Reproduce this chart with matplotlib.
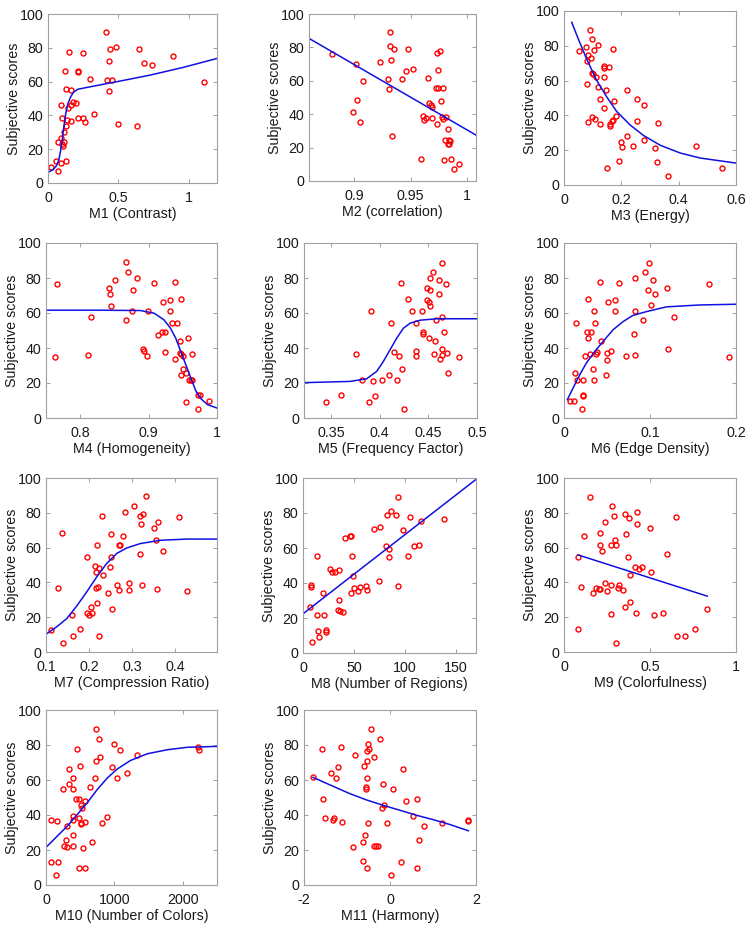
import matplotlib
matplotlib.use("Agg")
import matplotlib.pyplot as plt
from matplotlib.ticker import FuncFormatter

# (feature value, subjective score) pairs
m1_pts = [(0.415, 89.1), (0.481, 80.6), (0.441, 79.1), (0.645, 79.1), (0.149, 77.7), (0.251, 76.7),
          (0.891, 75.3), (0.434, 72.1), (0.685, 70.9), (0.735, 70.0), (0.123, 66.2), (0.211, 66.4),
          (0.216, 65.6), (0.296, 61.7), (0.422, 60.9), (0.453, 60.9), (1.109, 59.5), (0.128, 55.5),
          (0.166, 55.3), (0.431, 54.5), (0.175, 48.0), (0.199, 47.6), (0.095, 46.4), (0.161, 46.0),
          (0.140, 44.1), (0.329, 40.9), (0.102, 38.7), (0.133, 37.5), (0.213, 38.3), (0.246, 38.3),
          (0.166, 36.8), (0.265, 35.8), (0.498, 35.2), (0.633, 34.0), (0.130, 34.0), (0.114, 30.2),
          (0.090, 26.7), (0.073, 24.3), (0.111, 24.3), (0.100, 22.9), (0.107, 21.7), (0.055, 12.8),
          (0.090, 11.9), (0.128, 12.8), (0.019, 9.5), (0.069, 6.9)]
m1_fit = [(0.005, 6.5), (0.036, 7.9), (0.059, 10.1), (0.076, 13.4), (0.088, 18.4), (0.102, 26.3),
          (0.114, 34.2), (0.126, 41.1), (0.142, 47.0), (0.161, 51.0), (0.182, 53.8), (0.213, 55.5),
          (0.273, 56.5), (0.486, 59.9), (0.723, 63.8), (0.960, 68.4), (1.2, 73.7)]

m2_pts = [(0.9314, 89.0), (0.9317, 80.8), (0.935, 79.0), (0.948, 79.2), (0.976, 77.8), (0.973, 76.6),
          (0.880, 75.8), (0.9325, 72.3), (0.9225, 71.1), (0.902, 70.3), (0.9746, 66.5), (0.9518, 66.9),
          (0.9459, 66.1), (0.9654, 61.9), (0.9296, 61.1), (0.9426, 61.1), (0.9077, 59.9), (0.9305, 55.1),
          (0.9728, 55.9), (0.9746, 55.9), (0.979, 55.9), (0.9024, 48.3), (0.9772, 48.1), (0.9666, 46.5),
          (0.9678, 45.7), (0.9692, 44.3), (0.8994, 41.3), (0.9607, 38.7), (0.9621, 36.3), (0.964, 37.9),
          (0.9686, 37.9), (0.978, 38.1), (0.979, 37.1), (0.981, 38.5), (0.9053, 35.5), (0.9734, 34.3),
          (0.9831, 30.9), (0.9337, 26.9), (0.9808, 24.8), (0.9843, 24.4), (0.985, 23.8), (0.983, 22.4),
          (0.984, 22.0), (0.9589, 13.4), (0.9861, 13.4), (0.98, 12.4), (0.9929, 10.0), (0.9885, 7.2)]
m2_fit = [(0.86, 85.4), (1.008, 27.5)]

m3_pts = [(0.091, 89.3), (0.096, 83.7), (0.118, 80.7), (0.077, 79.3), (0.172, 78.0), (0.054, 77.2),
          (0.103, 77.6), (0.084, 74.6), (0.095, 73.2), (0.079, 71.1), (0.138, 68.5), (0.138, 67.1),
          (0.158, 67.7), (0.096, 64.6), (0.102, 63.9), (0.110, 61.8), (0.141, 61.8), (0.079, 58.1),
          (0.119, 56.2), (0.147, 54.7), (0.219, 54.7), (0.124, 49.3), (0.253, 49.5), (0.174, 48.0),
          (0.279, 46.1), (0.141, 44.4), (0.098, 38.8), (0.107, 38.2), (0.180, 39.4), (0.172, 37.5),
          (0.168, 36.7), (0.085, 36.3), (0.253, 36.9), (0.162, 35.2), (0.125, 35.2), (0.328, 35.6),
          (0.162, 33.7), (0.221, 28.3), (0.280, 26.0), (0.198, 24.7), (0.201, 21.8), (0.460, 22.2),
          (0.240, 22.4), (0.316, 21.4), (0.193, 13.6), (0.323, 13.0), (0.151, 9.6), (0.551, 9.6),
          (0.363, 5.4)]
m3_fit = [(0.027, 93.5), (0.049, 84.3), (0.078, 72.8), (0.113, 60.4), (0.148, 50.9), (0.183, 42.4),
          (0.230, 34.6), (0.277, 28.5), (0.335, 22.9), (0.405, 18.4), (0.475, 15.5), (0.6, 12.6)]

m4_pts = [(0.8676, 89.0), (0.8706, 83.5), (0.8833, 80.2), (0.851, 78.9), (0.9078, 77.4), (0.9382, 77.6),
          (0.7662, 76.8), (0.8417, 74.1), (0.8779, 73.0), (0.8441, 70.9), (0.948, 68.1), (0.9309, 67.3),
          (0.9216, 66.3), (0.8451, 64.1), (0.8995, 61.4), (0.876, 61.0), (0.9309, 61.2), (0.8157, 57.8),
          (0.8667, 56.1), (0.9338, 54.2), (0.9412, 54.2), (0.9132, 47.7), (0.920, 48.9), (0.924, 49.0),
          (0.9569, 45.6), (0.9466, 44.1), (0.8922, 39.2), (0.893, 38.2), (0.9235, 38.0), (0.9466, 36.9),
          (0.948, 36.3), (0.963, 36.7), (0.950, 35.2), (0.898, 35.6), (0.8113, 35.9), (0.7632, 34.8),
          (0.9387, 33.5), (0.9505, 28.1), (0.9554, 25.7), (0.948, 24.5), (0.959, 21.7), (0.962, 21.7),
          (0.963, 21.7), (0.9716, 13.1), (0.975, 13.1), (0.9554, 9.3), (0.9887, 9.5), (0.9716, 5.1)]
m4_fit = [(0.75, 61.6), (0.829, 61.6), (0.888, 61.4), (0.908, 59.9), (0.9225, 56.1), (0.932, 51.3),
          (0.9397, 45.6), (0.947, 38.0), (0.9544, 30.4), (0.9618, 22.8), (0.969, 15.6), (0.9765, 11.0),
          (0.9863, 7.6), (1.0, 5.7)]

m5_pts = [(0.4639, 88.8), (0.4546, 83.5), (0.4522, 80.2), (0.4605, 78.9), (0.4220, 77.4), (0.4684, 76.6),
          (0.4488, 74.1), (0.4522, 73.0), (0.4605, 70.9), (0.4296, 67.9), (0.4488, 67.3), (0.4509, 66.3),
          (0.4522, 64.1), (0.3911, 61.4), (0.4337, 61.4), (0.4430, 61.0), (0.4643, 57.8), (0.4581, 56.1),
          (0.4120, 54.4), (0.4375, 54.4), (0.4450, 49.2), (0.4450, 48.1), (0.4663, 49.0), (0.4509, 45.6),
          (0.4567, 43.9), (0.3756, 36.7), (0.4151, 38.0), (0.4371, 38.2), (0.4371, 35.4), (0.4196, 35.6),
          (0.4560, 36.7), (0.4639, 36.1), (0.4636, 39.2), (0.4694, 36.9), (0.4811, 35.0), (0.4619, 33.5),
          (0.4234, 28.1), (0.4698, 25.7), (0.4100, 24.3), (0.3814, 21.7), (0.3928, 21.1), (0.4024, 21.9),
          (0.4175, 21.9), (0.3601, 13.3), (0.3948, 12.7), (0.3447, 9.3), (0.3890, 9.3), (0.4254, 5.1)]
m5_fit = [(0.3223, 20.2), (0.3694, 20.9), (0.3866, 22.4), (0.3969, 26.6), (0.4038, 32.3), (0.4107, 39.0),
          (0.4175, 45.6), (0.4244, 51.3), (0.4313, 54.2), (0.4416, 55.9), (0.4588, 56.7), (0.5, 56.7)]

m6_pts = [(0.099, 88.8), (0.0944, 83.5), (0.0827, 80.2), (0.104, 78.9), (0.042, 77.6), (0.0637, 77.4),
          (0.169, 76.8), (0.1196, 74.1), (0.0975, 73.0), (0.1056, 70.9), (0.0276, 68.1), (0.0513, 66.3),
          (0.059, 67.3), (0.1014, 64.3), (0.0353, 61.4), (0.059, 61.4), (0.0827, 61.2), (0.1278, 57.8),
          (0.0913, 56.1), (0.014, 54.4), (0.0361, 54.4), (0.0268, 49.0), (0.031, 48.9), (0.0812, 47.9),
          (0.028, 45.8), (0.0435, 44.1), (0.0548, 38.2), (0.0384, 38.0), (0.1204, 39.2), (0.050, 36.9),
          (0.0369, 36.5), (0.030, 36.5), (0.0726, 35.6), (0.0827, 35.9), (0.1915, 35.0), (0.0241, 35.4),
          (0.050, 33.3), (0.0342, 28.1), (0.0124, 25.7), (0.049, 24.5), (0.0155, 21.7), (0.0221, 21.9),
          (0.035, 21.7), (0.0217, 13.1), (0.0217, 12.7), (0.007, 9.5), (0.012, 9.5), (0.0214, 5.3)]
m6_fit = [(0.0039, 10.5), (0.0105, 17.1), (0.0183, 24.7), (0.026, 31.4), (0.0357, 38.0), (0.0454, 43.7),
          (0.057, 50.4), (0.0687, 55.1), (0.080, 58.6), (0.0959, 60.8), (0.119, 63.5), (0.158, 64.6),
          (0.2, 65.0)]

m7_pts = [(0.3328, 89.5), (0.3034, 84.1), (0.3266, 79.3), (0.2833, 80.7), (0.318, 78.0), (0.230, 78.2),
          (0.4094, 77.4), (0.3606, 74.7), (0.3204, 73.6), (0.3514, 71.5), (0.1379, 68.6), (0.250, 67.8),
          (0.2779, 66.9), (0.2176, 61.7), (0.270, 61.7), (0.2725, 61.7), (0.3568, 64.4), (0.3196, 56.5),
          (0.373, 58.2), (0.195, 54.8), (0.250, 54.8), (0.2145, 49.4), (0.2222, 48.1), (0.216, 46.2),
          (0.2477, 49.0), (0.233, 44.4), (0.2647, 38.5), (0.2918, 39.7), (0.3227, 38.7), (0.2152, 37.0),
          (0.2214, 37.4), (0.127, 37.0), (0.2701, 35.6), (0.2918, 35.6), (0.3575, 36.4), (0.428, 35.2),
          (0.2438, 33.9), (0.2191, 28.4), (0.205, 25.9), (0.2524, 24.7), (0.1959, 22.2), (0.2075, 22.2),
          (0.199, 21.3), (0.1603, 21.5), (0.1108, 12.8), (0.178, 13.4), (0.1619, 9.4), (0.2237, 9.2),
          (0.1394, 5.2)]
m7_fit = [(0.1, 10.2), (0.1255, 14.6), (0.1487, 19.3), (0.1719, 26.6), (0.1951, 34.7), (0.2183, 43.3),
          (0.2415, 51.0), (0.2647, 56.7), (0.2879, 59.8), (0.3189, 62.3), (0.3653, 64.2), (0.4271, 64.9),
          (0.4975, 64.9)]

m8_pts = [(92.9, 89.3), (86.7, 81.0), (82.1, 79.0), (90.9, 79.0), (105.2, 77.9), (139.0, 76.6),
          (115.6, 75.4), (75.3, 72.2), (70.1, 70.9), (98.7, 70.1), (46.8, 66.9), (46.1, 66.9),
          (41.2, 65.5), (114.3, 61.5), (108.8, 61.0), (81.2, 61.0), (84.7, 59.6), (84.7, 54.9),
          (103.2, 55.6), (47.7, 55.6), (14.0, 55.6), (35.7, 47.6), (26.3, 48.0), (28.2, 46.5),
          (31.5, 46.3), (48.7, 43.8), (74.4, 41.0), (93.2, 38.3), (7.5, 38.7), (7.5, 37.7),
          (62.0, 38.3), (56.5, 37.5), (54.2, 35.6), (63.3, 35.8), (50.0, 37.0), (46.8, 34.3),
          (20.1, 34.1), (35.1, 30.3), (7.1, 26.5), (34.1, 24.4), (36.7, 23.8), (39.6, 23.4),
          (13.3, 21.9), (20.8, 21.7), (14.3, 12.8), (22.7, 13.0), (22.4, 12.0), (16.2, 9.1), (9.1, 6.5)]
m8_fit = [(0, 22.4), (170, 99.2)]

m9_pts = [(0.1515, 89.3), (0.2796, 83.9), (0.4233, 80.5), (0.3553, 79.2), (0.2893, 78.0), (0.3806, 77.2),
          (0.6505, 77.8), (0.2369, 74.6), (0.4233, 73.4), (0.501, 71.3), (0.2117, 68.3), (0.1146, 66.7),
          (0.3612, 67.7), (0.299, 64.2), (0.2097, 61.6), (0.2718, 61.6), (0.3049, 61.6), (0.2214, 58.1),
          (0.5961, 56.2), (0.0835, 54.7), (0.3728, 54.7), (0.4117, 49.1), (0.4388, 47.8), (0.4563, 49.1),
          (0.503, 45.9), (0.3825, 44.4), (0.101, 37.3), (0.2369, 39.6), (0.2718, 38.4), (0.3223, 38.4),
          (0.1883, 36.7), (0.2019, 36.1), (0.2117, 36.1), (0.3165, 36.9), (0.2505, 35.2), (0.3437, 35.6),
          (0.1689, 33.7), (0.3825, 28.5), (0.3573, 26.0), (0.2738, 21.6), (0.4214, 22.2), (0.5223, 21.2),
          (0.5728, 22.2), (0.833, 24.7), (0.0835, 13.0), (0.7592, 13.4), (0.6583, 9.4), (0.7049, 9.4),
          (0.3029, 5.2)]
m9_fit = [(0.0816, 55.8), (0.833, 32.1)]

m10_pts = [(738, 89.0), (773, 83.4), (993, 80.4), (2215, 79.0), (460, 77.7), (1086, 77.0), (2235, 77.3),
           (1325, 74.3), (792, 73.0), (733, 71.0), (504, 68.0), (958, 67.2), (337, 66.5), (401, 61.3),
           (714, 61.3), (1042, 61.3), (1183, 64.2), (337, 57.9), (244, 54.7), (396, 54.7), (636, 56.2),
           (435, 49.3), (484, 49.1), (513, 45.9), (533, 44.0), (572, 47.8), (78, 37.1), (166, 36.8),
           (396, 39.6), (391, 37.0), (484, 38.3), (509, 35.2), (518, 34.9), (577, 36.2), (826, 35.6),
           (895, 38.7), (313, 33.5), (391, 28.4), (293, 25.7), (675, 24.8), (259, 22.1), (313, 21.7),
           (396, 22.3), (548, 21.3), (78, 13.3), (181, 13.1), (484, 9.5), (577, 9.7), (142, 5.5)]
m10_fit = [(0, 21.5), (161, 27.8), (308, 33.5), (455, 40.2), (601, 46.9), (748, 54.5), (895, 61.1),
           (1042, 66.3), (1237, 71.2), (1482, 75.0), (1775, 77.3), (2068, 78.7), (2500, 79.2)]

m11_pts = [(-0.451, 89.1), (-0.241, 83.6), (-0.521, 80.4), (-1.144, 79.0), (-0.490, 77.7), (-1.580, 77.5),
           (-0.537, 76.8), (-0.809, 74.5), (-0.381, 73.1), (-0.529, 71.0), (-0.615, 68.0), (0.303, 66.5),
           (-1.198, 67.4), (-1.370, 64.2), (-1.253, 61.3), (-0.529, 61.3), (-1.790, 61.5), (-0.163, 57.9),
           (-0.568, 56.2), (-0.560, 54.7), (0.070, 54.7), (-1.556, 49.1), (0.630, 49.3), (0.381, 47.8),
           (-0.140, 45.9), (-0.187, 44.0), (0.545, 39.6), (-1.517, 38.5), (-1.300, 38.5), (-1.323, 37.0),
           (-1.105, 36.2), (1.821, 37.3), (1.821, 36.8), (-0.521, 35.4), (-0.062, 35.6), (1.206, 35.2),
           (0.786, 33.5), (-0.584, 28.4), (0.685, 25.7), (-0.623, 24.8), (-0.856, 21.5), (-0.381, 22.1),
           (-0.327, 22.3), (-0.288, 22.3), (-0.630, 13.5), (0.257, 13.1), (-0.529, 9.7), (0.638, 9.5),
           (0.016, 5.5)]
m11_fit = [(-1.79, 61.5), (-1.323, 56.4), (-0.934, 52.2), (-0.545, 48.6), (-0.156, 45.5), (0.233, 42.7),
           (0.623, 39.8), (1.012, 37.3), (1.401, 34.5), (1.821, 31.0)]

xlabels = ["M1 (Contrast)", "M2 (correlation)", "M3 (Energy)", "M4 (Homogeneity)",
           "M5 (Frequency Factor)", "M6 (Edge Density)", "M7 (Compression Ratio)",
           "M8 (Number of Regions)", "M9 (Colorfulness)", "M10 (Number of Colors)", "M11 (Harmony)"]
xlims = [(0, 1.2), (0.86, 1.008), (0, 0.6), (0.75, 1.0), (0.3223, 0.5), (0, 0.2),
         (0.1, 0.4975), (0, 170), (0, 1), (0, 2500), (-2, 2)]
xticks = [[0, 0.5, 1], [0.9, 0.95, 1], [0, 0.2, 0.4, 0.6], [0.8, 0.9, 1], [0.35, 0.4, 0.45, 0.5],
          [0, 0.1, 0.2], [0.1, 0.2, 0.3, 0.4], [0, 50, 100, 150], [0, 0.5, 1], [0, 1000, 2000], [-2, 0, 2]]
yticks = [0, 20, 40, 60, 80, 100]

points = [m1_pts, m2_pts, m3_pts, m4_pts, m5_pts, m6_pts, m7_pts, m8_pts, m9_pts, m10_pts, m11_pts]
fits = [m1_fit, m2_fit, m3_fit, m4_fit, m5_fit, m6_fit, m7_fit, m8_fit, m9_fit, m10_fit, m11_fit]

# axes boxes in pixels: left, top, right, bottom
W, H = 750, 925
boxes = [(48, 14, 217, 183), (309, 14, 476, 181), (564, 11, 736, 185),
         (46, 243, 217, 418), (304, 243, 477, 418), (564, 243, 736, 418),
         (46, 478, 217, 652), (303, 478, 476, 653), (564, 478, 736, 652),
         (46, 710, 217, 885), (304, 710, 476, 885)]

plt.rcParams['font.family'] = ['Liberation Sans', 'DejaVu Sans']
plt.rcParams['font.size'] = 10.3

fig = plt.figure(figsize=(7.5, 9.25), dpi=100)
fmt = FuncFormatter(lambda v, pos: f"{v:g}")

for i, (l, t, r, b) in enumerate(boxes):
    ax = fig.add_axes([l / W, 1 - b / H, (r - l) / W, (b - t) / H])
    px, py = zip(*points[i])
    ax.plot(px, py, 'o', ms=3.6, mfc='none', mec='#ff0000', mew=1.0, clip_on=False)
    fx, fy = zip(*fits[i])
    ax.plot(fx, fy, color='#1010e0', lw=1.1)
    ax.set_xlim(*xlims[i])
    ax.set_ylim(0, 100)
    ax.set_xticks(xticks[i])
    ax.set_yticks(yticks)
    ax.xaxis.set_major_formatter(fmt)
    ax.tick_params(direction='in', length=3, width=0.6, color='#909090',
                   top=True, right=True, labelcolor='#1a1a1a')
    ax.tick_params(axis='x', pad=5.5)
    ax.tick_params(axis='y', pad=3.5)
    for s in ax.spines.values():
        s.set_color('#a0a0a0')
        s.set_linewidth(0.8)
    ax.set_xlabel(xlabels[i], labelpad=2, color='#1a1a1a')
    ax.set_ylabel("Subjective scores", labelpad=-1, color='#1a1a1a')

fig.savefig("out.png", dpi=100)
